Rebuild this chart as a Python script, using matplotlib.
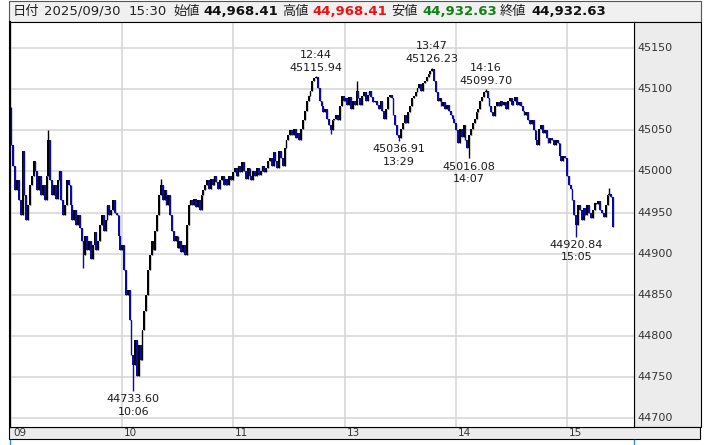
import matplotlib
matplotlib.use("Agg")
import matplotlib.pyplot as plt
from matplotlib.patches import Rectangle
from matplotlib.lines import Line2D
import matplotlib.transforms as mtrans
import numpy as np

plt.rcParams['font.family'] = ['DejaVu Sans', 'Noto Sans CJK JP']

# ---------------- data ----------------
first_open = 45075.0
morning_close = [
    45032, 45007, 44977, 44989, 44965, 44947, 45025, 44971, 44941, 44959,
    44983, 44995, 45013, 45001, 44977, 44995, 44971, 44983, 44965, 44995,
    45038, 44989, 44971, 44983, 44967, 44989, 45001, 44965, 44947, 44959,
    44989, 44983, 44959, 44941, 44953, 44935, 44947, 44931, 44916, 44898,
    44922, 44904, 44916, 44894, 44910, 44926, 44904, 44916, 44935, 44947,
    44928, 44941, 44959, 44947, 44953, 44965, 44950, 44947, 44922, 44904,
    44910, 44880, 44850, 44856, 44819, 44777, 44765, 44795, 44752, 44789,
    44771, 44807, 44831, 44850, 44880, 44898, 44916, 44904, 44928, 44947,
    44971, 44983, 44965, 44977, 44959, 44971, 44947, 44928, 44916, 44922,
    44907, 44916, 44902, 44910, 44899, 44935, 44959, 44965, 44959, 44967,
    44957, 44965, 44953, 44971, 44977, 44983, 44989, 44979, 44991, 44983,
    44995, 44987, 44979, 44989, 44995, 44983, 44991, 44984, 44995, 44989,
    44999, 45004, 44995, 45007, 44999, 45011, 45001, 44991, 45004, 44995,
    44989, 45001, 44994, 45004, 44996, 45001, 45007, 44999, 45004, 45013,
    45016, 45007, 45023, 45013, 45004, 45025, 45016, 45007, 45028, 45038,
    45044]
afternoon_close = [
    45050, 45044, 45052, 45040, 45047, 45038, 45052, 45062, 45074, 45086,
    45092, 45098, 45110, 45113, 45115, 45101, 45086, 45080, 45072, 45076,
    45064, 45056, 45050, 45062, 45064, 45068, 45062, 45080, 45092, 45086,
    45089, 45081, 45090, 45076, 45086, 45081, 45098, 45089, 45081, 45092,
    45096, 45086, 45093, 45098, 45091, 45084, 45086, 45081, 45076, 45086,
    45074, 45064, 45076, 45091, 45093, 45089, 45068, 45056, 45044, 45040,
    45052, 45059, 45068, 45059, 45072, 45080, 45089, 45092, 45096, 45101,
    45106, 45098, 45108, 45110, 45115, 45118, 45122, 45125, 45110, 45096,
    45086, 45089, 45080, 45084, 45076, 45081, 45074, 45068, 45064, 45059,
    45050, 45035, 45052, 45042, 45056, 45038, 45028, 45044, 45052, 45059,
    45064, 45072, 45076, 45086, 45091, 45096, 45098, 45089, 45080, 45072,
    45067, 45080, 45084, 45079, 45086, 45081, 45084, 45076, 45086, 45089,
    45081, 45086, 45090, 45081, 45084, 45079, 45074, 45068, 45072, 45062,
    45057, 45062, 45050, 45038, 45032, 45052, 45056, 45047, 45050, 45040,
    45035, 45041, 45038, 45032, 45038, 45035, 45019, 45013, 45019, 45016,
    44995, 44983, 44979, 44965, 44947, 44935, 44959, 44953, 44941, 44955,
    44947, 44959, 44950, 44943, 44953, 44962, 44960, 44964, 44953, 44950,
    44945, 44959, 44971, 44973, 44968.41, 44932.63]

# wick extremes (bar index -> value)
high_extremes = {0: 45078, 20: 45050, 81: 44991, 165: 45115.94, 187: 45110,
                 228: 45126.23, 257: 45099.70, 324: 44980}
low_extremes = {39: 44883, 66: 44733.60, 173: 45046, 210: 45036.91,
                248: 45016.08, 306: 44920.84}
annot_high = [165, 228, 257]
annot_low = [66, 210, 248, 306]

ytick_values = [44700, 44750, 44800, 44850, 44900, 44950, 45000, 45050, 45100, 45150]
hour_labels = ["09", "10", "11", "13", "14", "15"]
date_label = "2025/09/30"

# ---------------- build bars ----------------
closes = np.array(morning_close + afternoon_close, dtype=float)
n = len(closes)
opens = np.concatenate([[first_open], closes[:-1]])
highs = np.maximum(opens, closes)
lows = np.minimum(opens, closes)
for k, v in high_extremes.items():
    highs[k] = max(highs[k], v)
for k, v in low_extremes.items():
    lows[k] = min(lows[k], v)

times = []
for k in range(len(morning_close)):
    times.append(9 * 60 + k)
for k in range(len(afternoon_close) - 1):
    times.append(12 * 60 + 30 + k)
times.append(15 * 60 + 30)
tstr = [f"{t // 60}:{t % 60:02d}" for t in times]
xs = np.arange(n)

# ---------------- figure ----------------
W, H = 704, 445
fig = plt.figure(figsize=(W / 100, H / 100), dpi=100)

def fx(x):
    return x / W

def fy(y):
    return 1 - y / H

L, R, T, B = 10, 634.3, 21.7, 427.3
ax = fig.add_axes([fx(L), fy(B), fx(R) - fx(L), fy(T) - fy(B)])
ax.set_zorder(2)

# backgrounds (figure level)
fig.patches.append(Rectangle((fx(9), fy(21.7)), fx(701) - fx(9), fy(1) - fy(21.7),
                             transform=fig.transFigure, facecolor='#f0f0f0',
                             edgecolor='#555555', linewidth=0.8, zorder=-1))
fig.patches.append(Rectangle((fx(R), fy(B)), fx(701) - fx(R), fy(T) - fy(B),
                             transform=fig.transFigure, facecolor='#ececec',
                             edgecolor='#000000', linewidth=0.8, zorder=-1))
fig.patches.append(Rectangle((fx(9), fy(439)), fx(700) - fx(9), fy(B) - fy(439),
                             transform=fig.transFigure, facecolor='#ececec',
                             edgecolor='#000000', linewidth=0.8, zorder=-1))
fig.lines.append(Line2D([fx(10), fx(10)], [fy(439.5), fy(445)], transform=fig.transFigure,
                        color='#1e90e0', linewidth=1.0))
fig.lines.append(Line2D([fx(634.3), fx(634.3)], [fy(439.5), fy(445)], transform=fig.transFigure,
                        color='#1e90e0', linewidth=1.0))

ax.set_facecolor('white')
ax.set_xlim(-0.8, 337.5)
ax.set_ylim(44689.1, 45181.9)

# grid
for v in ytick_values:
    ax.axhline(v, color='#d4d4d4', linewidth=1.1, zorder=1)
hour_idx = [i for i, t in enumerate(times) if t % 60 == 0 and t < 15 * 60 + 30]
for i in hour_idx:
    ax.axvline(i, color='#d4d4d4', linewidth=1.1, zorder=1)

# bars
up_c, dn_c = '#000000', '#0a0aa0'
cols = [up_c if c >= o else dn_c for o, c in zip(opens, closes)]
ax.vlines(xs, lows, highs, colors=cols, linewidth=1.0, zorder=3)
body_h = np.maximum(np.abs(closes - opens), 0.8)
ax.bar(xs, body_h, bottom=np.minimum(opens, closes), width=1.0, color=cols,
       linewidth=0, zorder=3)

# annotations
ann_col = '#1a1a1a'
for i in annot_high:
    ax.annotate(f"{highs[i]:.2f}", (i, highs[i]), xytext=(0, 6), textcoords='offset points',
                ha='center', va='center', fontsize=8, color=ann_col, zorder=5)
    ax.annotate(tstr[i], (i, highs[i]), xytext=(0, 15.3), textcoords='offset points',
                ha='center', va='center', fontsize=8, color=ann_col, zorder=5)
for i in annot_low:
    ax.annotate(f"{lows[i]:.2f}", (i, lows[i]), xytext=(0, -6), textcoords='offset points',
                ha='center', va='center', fontsize=8, color=ann_col, zorder=5)
    ax.annotate(tstr[i], (i, lows[i]), xytext=(0, -15), textcoords='offset points',
                ha='center', va='center', fontsize=8, color=ann_col, zorder=5)

# y labels in right panel
tr_y = mtrans.blended_transform_factory(ax.transAxes, ax.transData)
for v in ytick_values:
    ax.text(1 + 3.4 / (R - L), v, f"{v}", transform=tr_y, ha='left', va='center',
            fontsize=8, color='#333333', clip_on=False)

# x labels in bottom band
tr_x = mtrans.blended_transform_factory(ax.transData, fig.transFigure)
for i, lab in zip(hour_idx, hour_labels):
    ax.text(i + 0.8, fy(433.2), lab, transform=tr_x, ha='left', va='center',
            fontsize=7.5, color='#333333', clip_on=False)

ax.set_xticks([])
ax.set_yticks([])
for s in ['top', 'right', 'bottom']:
    ax.spines[s].set_linewidth(0.8)
    ax.spines[s].set_color('#000000')
ax.spines['left'].set_linewidth(1.5)
ax.spines['left'].set_color('#000000')

# header
o_last, c_last = opens[-1], closes[-1]
h_last, l_last = highs[-1], lows[-1]
segments = [
    ("日付", 12.6, '#222222', 'normal'),
    (date_label, 43.7, '#222222', 'normal'),
    (tstr[-1], 128.3, '#222222', 'normal'),
    ("始値", 173.3, '#222222', 'normal'),
    (f"{o_last:,.2f}", 203.5, '#111111', 'bold'),
    ("高値", 282.2, '#222222', 'normal'),
    (f"{h_last:,.2f}", 312.8, '#ee1111', 'bold'),
    ("安値", 391.6, '#222222', 'normal'),
    (f"{l_last:,.2f}", 422.2, '#138013', 'bold'),
    ("終値", 499.6, '#222222', 'normal'),
    (f"{c_last:,.2f}", 531.1, '#111111', 'bold'),
]
for s, x, c, w in segments:
    fig.text(fx(x), fy(11.5), s, ha='left', va='center', fontsize=9.5, color=c, fontweight=w)

fig.savefig("out.png", dpi=100)
